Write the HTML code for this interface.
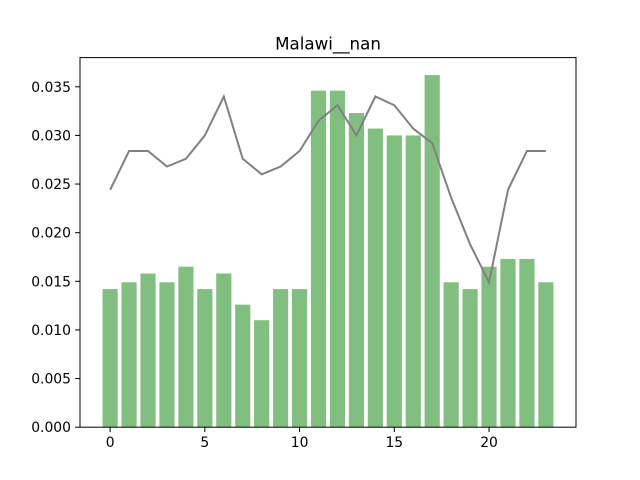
<!DOCTYPE html>
<html><head><meta charset="utf-8"><style>
body{margin:0;background:#fff;}
svg{display:block;font-family:"DejaVu Sans","Liberation Sans",sans-serif;}
</style></head><body>
<svg id="chart" width="640" height="480"></svg>
<script>
const categories=[0,1,2,3,4,5,6,7,8,9,10,11,12,13,14,15,16,17,18,19,20,21,22,23];
const barValues=[0.0142,0.0149,0.0158,0.0149,0.0165,0.0142,0.0158,0.0126,0.0110,0.0142,0.0142,0.0346,0.0346,0.0323,0.0307,0.0300,0.0300,0.0362,0.0149,0.0142,0.0165,0.0173,0.0173,0.0149];
const lineValues=[0.0244,0.0284,0.0284,0.0268,0.0276,0.0300,0.0340,0.0276,0.0260,0.0268,0.0284,0.0315,0.0331,0.0300,0.0340,0.0331,0.0307,0.0292,0.0236,0.0188,0.0149,0.0244,0.0284,0.0284];
const xTicks=[0,5,10,15,20];
const yTicks=[0,0.005,0.010,0.015,0.020,0.025,0.030,0.035];
const yTickLabels=["0.000","0.005","0.010","0.015","0.020","0.025","0.030","0.035"];
const title="Malawi__nan";

const L=80,R=576,T=57.6,B=427.2;
const xmin=-1.59,xmax=24.59,ymin=0,ymax=0.0380;
const xs=v=>L+(v-xmin)/(xmax-xmin)*(R-L);
const ys=v=>B-(v-ymin)/(ymax-ymin)*(B-T);
const NS="http://www.w3.org/2000/svg";
const svg=document.getElementById('chart');
function mk(tag,attrs,parent){const e=document.createElementNS(NS,tag);for(const k in attrs)e.setAttribute(k,attrs[k]);(parent||svg).appendChild(e);return e;}

const bars=mk('g',{});


categories.forEach((c,i)=>{
  const r=mk('rect',{x:xs(c-0.4),y:ys(barValues[i]),width:xs(c+0.4)-xs(c-0.4),height:ys(0)-ys(barValues[i]),fill:'#81bf81'},bars);
  
  
});
const pts=categories.map((c,i)=>xs(c)+','+ys(lineValues[i])).join(' ');
const line=mk('polyline',{points:pts,fill:'none',stroke:'#808080','stroke-width':2});



const frame=mk('rect',{x:L,y:T,width:R-L,height:B-T,fill:'none',stroke:'#000','stroke-width':1});



const xa=mk('g',{});


xTicks.forEach(t=>{
  mk('line',{x1:xs(t),x2:xs(t),y1:B,y2:B+4.9,stroke:'#000','stroke-width':1},xa);
  const tx=mk('text',{x:xs(t),y:B+20,'text-anchor':'middle','font-size':13.9},xa);
  tx.textContent=t;
  
  
});
const ya=mk('g',{});


yTicks.forEach((t,i)=>{
  mk('line',{x1:L-4.9,x2:L,y1:ys(t),y2:ys(t),stroke:'#000','stroke-width':1},ya);
  const tx=mk('text',{x:L-9,y:ys(t)+5,'text-anchor':'end','font-size':13.9},ya);
  tx.textContent=yTickLabels[i];
  
  
});
const ti=mk('text',{x:(L+R)/2,y:T-8,'text-anchor':'middle','font-size':16.7});
ti.textContent=title;


</script>
</body></html>
